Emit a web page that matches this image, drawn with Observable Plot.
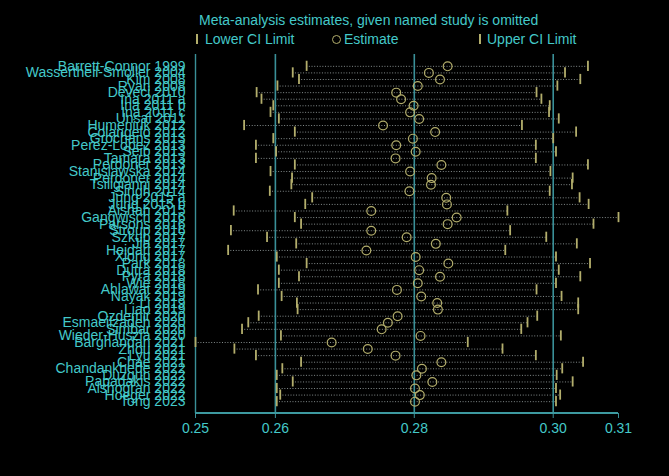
<!DOCTYPE html>
<html><head><meta charset="utf-8">
<script src="https://cdn.jsdelivr.net/npm/d3@7"></script>
<script src="https://cdn.jsdelivr.net/npm/@observablehq/plot@0.6"></script>
<style>
html,body{margin:0;padding:0;background:#000;}
#wrap{position:relative;width:669px;height:476px;background:#000;font-family:"Liberation Sans",Arial,sans-serif;color:#44c9c9;overflow:hidden}
#wrap svg{position:absolute;left:0;top:0}
.t{position:absolute;font-size:14px;line-height:16px;white-space:nowrap;color:#44c9c9}
.bar{position:absolute;width:2px;height:10px;background:#b3ae6c}
.circ{position:absolute;width:9px;height:9px;border:1.2px solid #b3ae6c;border-radius:50%;box-sizing:border-box}
</style>
</head><body>
<div id="wrap">
</div>
<script>
const studies = ["Barrett-Connor 1999","Wassertheil-Smoller 2004","Kim 2008","Ryan 2008","Deveci 2010","Ina 2011 a","Ina 2011 b","Ina 2011 c","Unsal 2011","Humeniuk 2012","Colangelo 2012","Grochans 2013","Perez-Lopez 2013","Seib 2013","Tamara 2013","Perdoner 2013","Stanislawska 2014","Perdoner 2014","Tsiligianni 2014","Singh 2014","Jung 2015 a","Jung 2015 b","Aishah 2015","Gangwisch 2016","Parsons 2016","Stroup 2016","Szkup 2017","Jia 2017","Heidari 2017","Xiong 2017","Park 2018","Dutra 2018","Pyra 2018","Wie 2018","Ahlawat 2019","Nayak 2019","Li 2019","Liao 2019","Ozdemir 2020","Esmaeilzadeh 2020","Simbar 2020","Wieder-Huszla 2020","Barghandan 2021","Zhou 2021","Lyu 2021","Chae 2021","Chandankhede 2022","Duzgun 2022","Papadakis 2022","Alshogran 2022","Hoeger 2022","Tong 2023"];
const lower = [0.2644,0.2624,0.2633,0.2602,0.2572,0.2579,0.2596,0.2592,0.2604,0.2554,
  0.2627,0.2596,0.2571,0.2600,0.2571,0.2627,0.2592,0.2623,0.2622,0.2591,
  0.2652,0.2642,0.2539,0.2627,0.2636,0.2535,0.2587,0.2629,0.2531,0.2601,
  0.2644,0.2604,0.2633,0.2604,0.2574,0.2608,0.2630,0.2631,0.2575,0.2560,
  0.2551,0.2607,0.2484,0.2540,0.2571,0.2636,0.2609,0.2601,0.2624,0.2601,
  0.2606,0.2601];
const estimate = [0.2847,0.2820,0.2836,0.2804,0.2773,0.2780,0.2798,0.2793,0.2806,0.2754,
  0.2829,0.2797,0.2773,0.2801,0.2772,0.2838,0.2793,0.2824,0.2823,0.2792,
  0.2845,0.2846,0.2737,0.2860,0.2847,0.2737,0.2788,0.2830,0.2730,0.2801,
  0.2848,0.2806,0.2836,0.2804,0.2774,0.2809,0.2832,0.2833,0.2775,0.2761,
  0.2752,0.2808,0.2680,0.2732,0.2772,0.2838,0.2810,0.2802,0.2825,0.2800,
  0.2807,0.2800];
const upper = [0.3049,0.3016,0.3038,0.3005,0.2975,0.2982,0.2994,0.2993,0.3007,0.2954,
  0.3032,0.2999,0.2974,0.3003,0.2974,0.3049,0.2995,0.3027,0.3026,0.2994,
  0.3037,0.3050,0.2933,0.3093,0.3057,0.2937,0.2989,0.3033,0.2930,0.3003,
  0.3052,0.3007,0.3038,0.3003,0.2975,0.3011,0.3035,0.3035,0.2976,0.2962,
  0.2953,0.3010,0.2876,0.2926,0.2974,0.3042,0.3012,0.3004,0.3027,0.3003,
  0.3009,0.3003];
// overall combined estimate: lower CI, estimate, upper CI
const overall = [0.2599, 0.2799, 0.2999];
const titleText = "Meta-analysis estimates, given named study is omitted";
const legendLabels = ["Lower CI Limit", "Estimate", "Upper CI Limit"];

const rows = studies.map((s, i) => ({study: s, lower: lower[i], est: estimate[i], upper: upper[i]}));
const xMin = d3.min(lower), xMax = d3.max(upper);
const tickVals = [xMin, ...overall, xMax];

const cyan = "#44c9c9", teal = "#3a9098", khaki = "#b3ae6c", dotc = "#9aa3a3";
const W = 669, H = 476, mL = 195, mR = 51, mT = 54, mB = 63;

const chart = Plot.plot({
  width: W, height: H,
  marginLeft: mL, marginRight: mR, marginTop: mT, marginBottom: mB,
  style: {background: "black", color: cyan, fontSize: "14px", fontFamily: "'Liberation Sans', Arial, sans-serif"},
  x: {domain: [xMin, xMax]},
  y: {type: "band", domain: studies, paddingInner: 0, paddingOuter: 1.3, round: false},
  marks: [
    Plot.ruleY(rows, {y: "study", x1: "lower", x2: "upper", stroke: dotc, strokeWidth: 1, strokeDasharray: "1,1.7", strokeOpacity: 0.85}),
    Plot.ruleX(overall, {stroke: teal, strokeWidth: 1.6}),
    Plot.ruleX([xMin], {stroke: teal, strokeWidth: 1.4}),
    Plot.tickX(rows, {x: "lower", y: "study", stroke: khaki, strokeWidth: 1.8, insetTop: -1.8, insetBottom: -1.8}),
    Plot.tickX(rows, {x: "upper", y: "study", stroke: khaki, strokeWidth: 1.8, insetTop: -1.8, insetBottom: -1.8}),
    Plot.dot(rows, {x: "est", y: "study", r: 4.4, stroke: khaki, fill: "none", strokeWidth: 1.2}),
    Plot.axisY({tickSize: 0, tickPadding: 10, fill: cyan, label: null, fontSize: 14}),
    Plot.axisX({ticks: tickVals, tickFormat: d3.format(".2f"), tickSize: 5, tickPadding: 5, stroke: teal, fill: cyan, label: null, fontSize: 14})
  ]
});

// x axis baseline, positioned from the library's own x scale
const xs = chart.scale("x");
d3.select(chart).append("line")
  .attr("x1", xs.apply(xMin)).attr("x2", xs.apply(xMax))
  .attr("y1", H - mB).attr("y2", H - mB)
  .attr("stroke", "#3d9aa0").attr("stroke-width", 2);

const wrap = document.getElementById("wrap");
wrap.appendChild(chart);

function addText(txt, left, top) {
  const d = document.createElement("div");
  d.className = "t"; d.textContent = txt;
  d.style.left = left + "px"; d.style.top = top + "px";
  wrap.appendChild(d);
}
function addEl(cls, left, top) {
  const d = document.createElement("div");
  d.className = cls; d.style.left = left + "px"; d.style.top = top + "px";
  wrap.appendChild(d);
}
addText(titleText, 199, 12);
addEl("bar", 196, 34);
addText(legendLabels[0], 205, 31);
addEl("circ", 332, 35);
addText(legendLabels[1], 344, 31);
addEl("bar", 479, 34);
addText(legendLabels[2], 487, 31);
</script>
</body></html>
